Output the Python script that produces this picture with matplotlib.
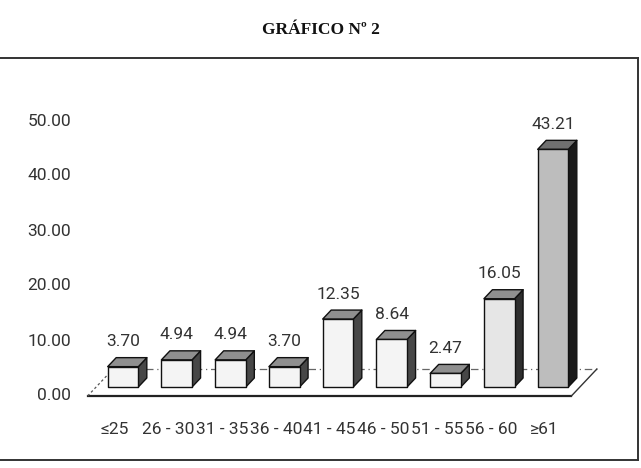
import matplotlib
matplotlib.use("Agg")
import matplotlib.pyplot as plt
from matplotlib.patches import Polygon
from matplotlib.lines import Line2D

categories = ["≤25", "26 - 30", "31 - 35", "36 - 40", "41 - 45", "46 - 50", "51 - 55", "56 - 60", "≥61"]
values = [3.70, 4.94, 4.94, 3.70, 12.35, 8.64, 2.47, 16.05, 43.21]
y_ticks = [0, 10, 20, 30, 40, 50]
title = "GRÁFICO Nº 2"

front_colors = ["#f4f4f4"] * 7 + ["#e6e6e6", "#bdbdbd"]
top_colors = ["#8f8f8f"] * 8 + ["#707070"]
side_colors = ["#474747"] * 7 + ["#2e2e2e", "#1a1a1a"]

W, H = 641, 468
fig = plt.figure(figsize=(W / 100, H / 100), dpi=100)
ax = fig.add_axes([0, 0, 1, 1])
X0, XS = 114.5, 53.75
Y0, YS = 396, 5.5
ax.set_xlim((0 - X0) / XS, (W - X0) / XS)
ax.set_ylim((Y0 - H) / YS, Y0 / YS)
ax.axis("off")

DX = 8.5 / XS
DY = 9.0 / YS


def pt(x, y, d):
    return (x + d * DX, y + d * DY)


font = ["Roboto", "DejaVu Sans"]
fs = 12.5
fw = "normal"
tcol = "#333333"

# floor
n = len(categories)
fl, fr = -0.5, n - 0.5
ax.add_line(Line2D([fl, fr], [0, 0], color="#222222", lw=1.6, zorder=2))
p1, p2 = pt(fr, 0, 0), pt(fr, 0, 3)
ax.add_line(Line2D([p1[0], p2[0]], [p1[1], p2[1]], color="#333333", lw=1.0, zorder=2))
p1, p2 = pt(fl, 0, 3), pt(fr, 0, 3)
ax.add_line(Line2D([p1[0], p2[0]], [p1[1], p2[1]], color="#666666", lw=0.9,
                   linestyle=(0, (6, 3, 1, 3)), zorder=1))
p1, p2 = pt(fl, 0, 0), pt(fl, 0, 3)
ax.add_line(Line2D([p1[0], p2[0]], [p1[1], p2[1]], color="#555555", lw=0.9,
                   linestyle=(0, (2, 2)), zorder=2))

hw = 0.285
for i, v in enumerate(values):
    l, r = i - hw, i + hw
    front = [pt(l, 0, 1), pt(r, 0, 1), pt(r, v, 1), pt(l, v, 1)]
    top = [pt(l, v, 1), pt(r, v, 1), pt(r, v, 2), pt(l, v, 2)]
    side = [pt(r, 0, 1), pt(r, 0, 2), pt(r, v, 2), pt(r, v, 1)]
    for poly, c in ((side, side_colors[i]), (top, top_colors[i]), (front, front_colors[i])):
        ax.add_patch(Polygon(poly, closed=True, facecolor=c, edgecolor="#111111",
                             lw=1.0, joinstyle="round", zorder=3 + i * 0.01))
    cx, cy = pt(i, v, 2)
    ax.text(i + DX, cy + 16 / YS, f"{v:.2f}", ha="center", va="center",
            fontsize=fs, family=font, weight=fw, color=tcol, zorder=5)
    ax.text(i, -34 / YS, categories[i], ha="center", va="center",
            fontsize=fs, family=font, weight=fw, color=tcol)

for t in y_ticks:
    ax.text((71 - X0) / XS, t, f"{t:.2f}", ha="right", va="center",
            fontsize=fs, family=font, weight=fw, color=tcol)

fig.text(0.5, 1 - 30 / H, title, ha="center", va="center", fontsize=12.5,
         fontweight="bold", family=["Liberation Serif", "DejaVu Serif"], color="#111111")

# outer frame
top_y = 1 - 58 / H
bot_y = 1 - 460 / H
right_x = 638 / W
fig.add_artist(Line2D([0, right_x], [top_y, top_y], transform=fig.transFigure, color="#333333", lw=1.4))
fig.add_artist(Line2D([right_x, right_x], [top_y, bot_y], transform=fig.transFigure, color="#333333", lw=1.4))
fig.add_artist(Line2D([0, right_x], [bot_y, bot_y], transform=fig.transFigure, color="#333333", lw=1.4))

fig.savefig("out.png", dpi=100, facecolor="white")
